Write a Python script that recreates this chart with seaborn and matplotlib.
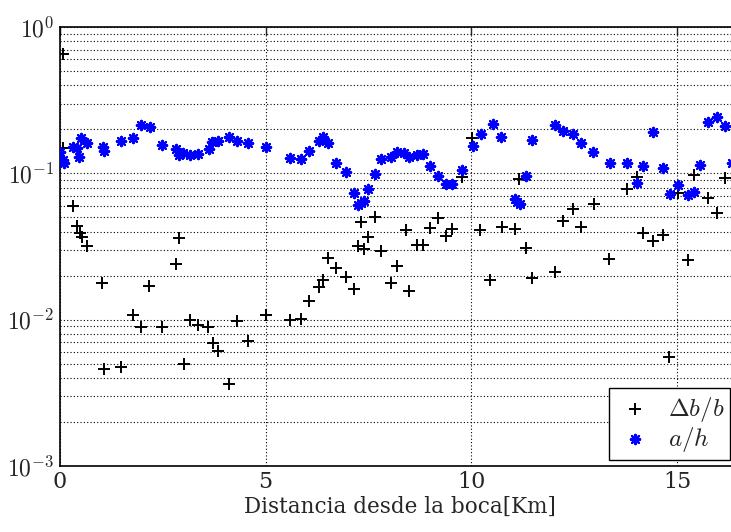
import numpy as np
import pandas as pd
import seaborn as sns
import matplotlib.pyplot as plt
from matplotlib.ticker import FuncFormatter

# Distance along the river [km] and the two ratios
x_db = [0.07, 0.07, 0.32, 0.41, 0.49, 0.53, 0.66, 1.02, 1.07, 1.48, 1.77, 1.97, 2.16, 2.48,
        2.82, 2.89, 3.01, 3.16, 3.36, 3.60, 3.72, 3.84, 4.11, 4.30, 4.57, 5.01, 5.59, 5.86,
        6.05, 6.30, 6.39, 6.52, 6.71, 6.95, 7.15, 7.25, 7.32, 7.39, 7.49, 7.66, 7.80, 8.05,
        8.19, 8.41, 8.49, 8.68, 8.83, 9.00, 9.19, 9.38, 9.53, 9.77, 10.02, 10.21, 10.45,
        10.75, 11.06, 11.16, 11.33, 11.48, 12.03, 12.23, 12.47, 12.67, 12.98, 13.35, 13.79,
        14.03, 14.17, 14.42, 14.66, 14.81, 15.03, 15.27, 15.41, 15.75, 15.97, 16.17]
db_b = [0.654, 0.149, 0.0598, 0.0436, 0.0391, 0.0367, 0.0318, 0.0178, 0.0046, 0.00474,
        0.0108, 0.0089, 0.017, 0.0089, 0.024, 0.0361, 0.00497, 0.00994, 0.00919, 0.0089,
        0.00692, 0.0061, 0.00363, 0.00978, 0.00714, 0.0108, 0.00994, 0.0101, 0.0134, 0.0167,
        0.0187, 0.0264, 0.0225, 0.0196, 0.0162, 0.0318, 0.0465, 0.0304, 0.0367, 0.0502,
        0.0294, 0.0178, 0.0232, 0.041, 0.0157, 0.0324, 0.0324, 0.0423, 0.0495, 0.0373,
        0.0416, 0.0944, 0.174, 0.041, 0.0187, 0.043, 0.0416, 0.0914, 0.0309, 0.0192, 0.0212,
        0.0472, 0.057, 0.043, 0.0617, 0.026, 0.0781, 0.0944, 0.0391, 0.0345, 0.0379, 0.00555,
        0.0733, 0.0255, 0.0973, 0.0678, 0.0535, 0.0929]

x_ah = [0.0, 0.07, 0.10, 0.32, 0.41, 0.46, 0.51, 0.66, 1.05, 1.07, 1.48, 1.77, 1.97, 2.19,
        2.48, 2.82, 2.89, 2.99, 3.16, 3.36, 3.62, 3.70, 3.84, 4.11, 4.30, 4.57, 5.01, 5.59,
        5.86, 6.05, 6.30, 6.39, 6.52, 6.71, 6.95, 7.15, 7.25, 7.32, 7.39, 7.49, 7.66, 7.80,
        8.05, 8.19, 8.36, 8.49, 8.68, 8.83, 9.00, 9.19, 9.38, 9.53, 9.77, 10.04, 10.24,
        10.53, 10.72, 11.06, 11.11, 11.18, 11.33, 11.48, 12.03, 12.23, 12.47, 12.67, 12.96,
        13.37, 13.79, 14.03, 14.17, 14.42, 14.66, 14.83, 15.03, 15.27, 15.41, 15.56, 15.75,
        15.97, 16.17, 16.35]
a_h = [0.14, 0.123, 0.117, 0.151, 0.149, 0.129, 0.174, 0.161, 0.151, 0.142, 0.166, 0.174,
       0.214, 0.207, 0.156, 0.147, 0.133, 0.138, 0.133, 0.135, 0.147, 0.164, 0.166, 0.177,
       0.166, 0.161, 0.151, 0.127, 0.125, 0.142, 0.166, 0.177, 0.161, 0.117, 0.102, 0.0733,
       0.0607, 0.0627, 0.0647, 0.0781, 0.0989, 0.125, 0.129, 0.14, 0.138, 0.129, 0.133,
       0.135, 0.112, 0.0959, 0.0845, 0.0845, 0.105, 0.154, 0.186, 0.217, 0.177, 0.0667,
       0.0637, 0.0617, 0.0959, 0.169, 0.214, 0.195, 0.186, 0.161, 0.14, 0.117, 0.117,
       0.0859, 0.112, 0.191, 0.109, 0.0722, 0.0832, 0.0711, 0.0745, 0.114, 0.224, 0.243,
       0.211, 0.117]

df_db = pd.DataFrame({'x': x_db, 'y': db_b})
df_ah = pd.DataFrame({'x': x_ah, 'y': a_h})

sns.set_style('white')
plt.rcParams['font.family'] = ['DejaVu Serif']
plt.rcParams['mathtext.fontset'] = 'cm'

fig = plt.figure(figsize=(7.31, 5.32), dpi=100)
# axes runs a little past the right edge, as in the original
ax = fig.add_axes([60 / 731, 66 / 532, 680 / 731, 439 / 532])

sns.scatterplot(data=df_db, x='x', y='y', ax=ax, marker='+', color='black',
                s=70, linewidth=1.4, label=r'$\Delta b/b$', zorder=3)
sns.scatterplot(data=df_ah, x='x', y='y', ax=ax, marker=(8, 2, 0), color='blue',
                edgecolor='blue', s=45, linewidth=1.6, label=r'$a/h$', zorder=3)

ax.set_yscale('log')
ax.set_xlim(0, 680 / 41.13)
ax.set_ylim(1e-3, 1)
ax.set_xticks([0, 5, 10, 15])
ax.yaxis.set_major_formatter(FuncFormatter(lambda v, p: r'$10^{%d}$' % round(np.log10(v))))
ax.set_xlabel('Distancia desde la boca[Km]', fontsize=15.5, labelpad=2)
ax.set_ylabel('')

dots = dict(color='black', linestyle=(0, (1, 2)), linewidth=0.8)
ax.grid(True, which='major', axis='both', **dots)
ax.grid(True, which='minor', axis='y', **dots)
ax.tick_params(which='both', direction='in', top=True, right=True)
ax.tick_params(axis='x', labelsize=16)
ax.tick_params(axis='y', labelsize=17, pad=4)
ax.tick_params(which='major', length=6, width=1)
ax.tick_params(which='minor', length=3, width=0.8)
for sp in ax.spines.values():
    sp.set_color('black')
    sp.set_linewidth(1.2)

leg = ax.legend(loc='lower left', bbox_to_anchor=((609 - 60) / 680, 6 / 439),
                fancybox=False, framealpha=1, edgecolor='black', fontsize=18,
                borderaxespad=0, borderpad=0.25, handlelength=1.6,
                handletextpad=0.5, labelspacing=0.05)
leg.get_frame().set_linewidth(1.0)

fig.savefig('out.png', dpi=100)
